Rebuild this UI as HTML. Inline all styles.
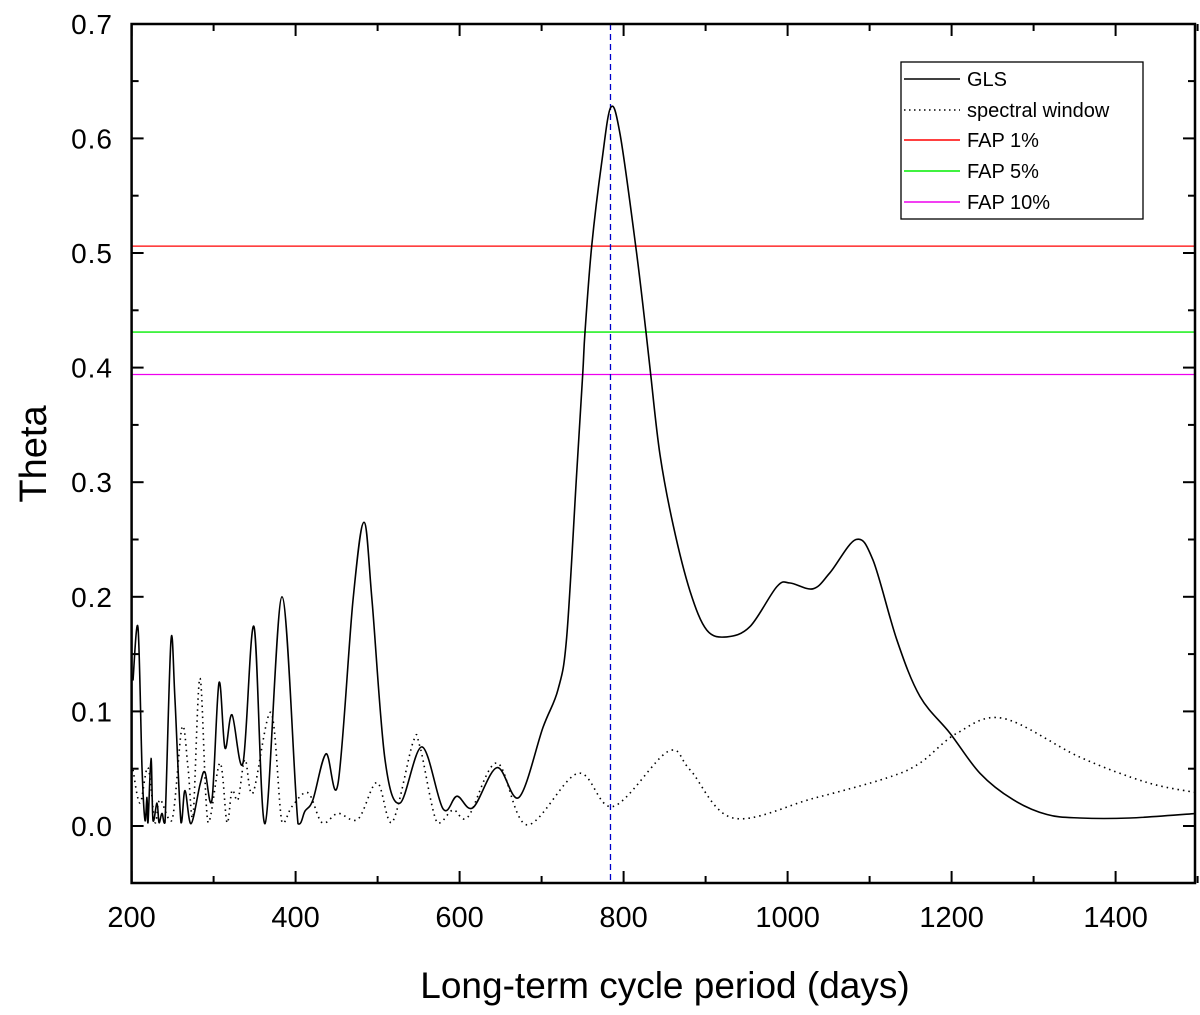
<!DOCTYPE html>
<html><head><meta charset="utf-8"><style>
body{margin:0;background:#fff}
svg text{font-family:"Liberation Sans",Arial,sans-serif}
</style></head><body>
<svg id="chart" width="1200" height="1010" xmlns="http://www.w3.org/2000/svg"></svg>
<script>
const glsPeriod=[201.7,207.8,212.7,216.3,218.8,220.0,223.7,226.1,231.0,233.4,237.1,240.7,248.0,252.9,260.2,265.1,272.4,283.4,289.5,298.0,306.6,313.9,322.4,335.9,349.3,362.7,383.4,402.9,411.5,421.2,437.1,451.7,470.0,483.4,493.2,509.0,527.3,554.1,579.8,596.8,616.3,645.6,672.4,701.7,720.0,730.6,742.8,750.1,752.9,761.1,773.3,784.3,795.6,814.8,827.3,833.0,844.4,860.6,881.0,901.3,925.7,954.1,987.1,1003.0,1031.0,1051.7,1083.4,1104.1,1133.4,1161.5,1198.0,1234.6,1274.9,1316.3,1356.6,1417.6,1499.3];
const glsTheta=[0.127,0.173,0.051,0.005,0.025,0.003,0.059,0.005,0.020,0.003,0.011,0.003,0.162,0.110,0.003,0.031,0.002,0.036,0.047,0.023,0.125,0.068,0.097,0.055,0.174,0.002,0.200,0.002,0.013,0.023,0.063,0.037,0.197,0.265,0.197,0.058,0.020,0.069,0.015,0.026,0.016,0.051,0.025,0.086,0.119,0.165,0.308,0.394,0.431,0.506,0.579,0.627,0.604,0.506,0.431,0.394,0.324,0.262,0.205,0.171,0.165,0.174,0.209,0.212,0.207,0.221,0.250,0.232,0.162,0.113,0.081,0.046,0.023,0.010,0.007,0.007,0.011];
const swPeriod=[201.7,210.2,220.0,228.5,234.6,249.3,261.5,268.8,274.9,283.4,293.2,307.8,316.3,322.4,329.8,338.3,348.0,370.0,383.4,395.6,415.1,432.2,451.7,476.1,499.3,517.6,543.2,551.7,572.4,592.0,610.2,645.6,682.2,744.4,787.1,854.1,881.0,933.4,1031.0,1121.2,1161.5,1206.6,1262.7,1356.6,1438.3,1499.3];
const swTheta=[0.049,0.020,0.051,0.003,0.023,0.005,0.086,0.051,0.008,0.129,0.003,0.055,0.003,0.031,0.023,0.058,0.029,0.099,0.003,0.017,0.029,0.003,0.011,0.006,0.038,0.003,0.073,0.069,0.003,0.014,0.008,0.055,0.001,0.046,0.017,0.065,0.049,0.007,0.024,0.042,0.055,0.081,0.094,0.060,0.038,0.029];
const fapLevels=[0.506,0.431,0.394];
const fapLabels=["FAP 1%","FAP 5%","FAP 10%"];
const bestPeriod=[784];
const xTicks=[200,400,600,800,1000,1200,1400];
const yTicks=[0.0,0.1,0.2,0.3,0.4,0.5,0.6,0.7];

const L=131.6,R=1195,T=24,B=883;
const X=v=>L+(v-200)*0.82;
const Y=v=>826-v*1146;
const svg=document.getElementById('chart');
const NS='http://www.w3.org/2000/svg';
function mk(tag,attrs,parent){const e=document.createElementNS(NS,tag);for(const k in attrs)e.setAttribute(k,attrs[k]);(parent||svg).appendChild(e);return e;}
function smooth(px,py){const floor=Y(0);let d='M'+px[0].toFixed(1)+','+py[0].toFixed(1);
 for(let i=0;i<px.length-1;i++){const x0=px[Math.max(i-1,0)],y0=py[Math.max(i-1,0)],x1=px[i],y1=py[i],x2=px[i+1],y2=py[i+1],x3=px[Math.min(i+2,px.length-1)],y3=py[Math.min(i+2,px.length-1)];
 const c1x=x1+(x2-x0)/6,c1y=Math.min(floor,y1+(y2-y0)/6),c2x=x2-(x3-x1)/6,c2y=Math.min(floor,y2-(y3-y1)/6);
 d+=' C'+c1x.toFixed(1)+','+c1y.toFixed(1)+' '+c2x.toFixed(1)+','+c2y.toFixed(1)+' '+x2.toFixed(1)+','+y2.toFixed(1);}
 return d;}

const cp=mk('clipPath',{id:'clip'});mk('rect',{x:L,y:T,width:R-L,height:B-T},cp);
const fapColors=['#ff0000','#00ee00','#ee00ee'];
fapLevels.forEach((v,i)=>{const l=mk('line',{x1:L,x2:R,y1:Y(v),y2:Y(v),stroke:fapColors[i],'stroke-width':1.3});

});
bestPeriod.forEach(p=>{const l=mk('line',{x1:X(p),x2:X(p),y1:T,y2:B,stroke:'#0000cc','stroke-width':1.3,'stroke-dasharray':'6,4'});

});
const sw=mk('path',{d:smooth(swPeriod.map(X),swTheta.map(Y)),fill:'none',stroke:'#000','stroke-width':1.6,'stroke-dasharray':'1.5,4','clip-path':'url(#clip)'});


const gl=mk('path',{d:smooth(glsPeriod.map(X),glsTheta.map(Y)),fill:'none',stroke:'#000','stroke-width':1.6,'clip-path':'url(#clip)'});



const fr=mk('rect',{x:L,y:T,width:R-L,height:B-T,fill:'none',stroke:'#000','stroke-width':2.5});


for(let v=200;v<=1500;v+=100){const x=X(v),len=(v%200==0)?12:7;
 mk('line',{x1:x,x2:x,y1:B,y2:B-len,stroke:'#000','stroke-width':2});
 mk('line',{x1:x,x2:x,y1:T,y2:T+len,stroke:'#000','stroke-width':2});}
for(let k=-1;k<=14;k++){const v=k*0.05,y=Y(v),len=(k%2==0)?12:7;if(y<T||y>B)continue;
 mk('line',{x1:L,x2:L+len,y1:y,y2:y,stroke:'#000','stroke-width':2});
 mk('line',{x1:R,x2:R-len,y1:y,y2:y,stroke:'#000','stroke-width':2});}
xTicks.forEach(v=>{const t=mk('text',{x:X(v),y:927,'text-anchor':'middle','font-size':29});t.textContent=v;

});
yTicks.forEach(v=>{const t=mk('text',{x:113,y:Y(v)+10,'text-anchor':'end','font-size':28,'letter-spacing':'1'});t.textContent=v.toFixed(1);

});
const xt=mk('text',{x:665,y:998,'text-anchor':'middle','font-size':37});xt.textContent='Long-term cycle period (days)';


const yt=mk('text',{x:0,y:0,'text-anchor':'middle','font-size':38,transform:'translate(46,454) rotate(-90)'});yt.textContent='Theta';



const lg=mk('g',{});


mk('rect',{x:901,y:62,width:242,height:157,fill:'#fff',stroke:'#000','stroke-width':1.3},lg);
const entries=[['GLS','#000',null],['spectral window','#000','1.5,3.5'],[fapLabels[0],fapColors[0],null],[fapLabels[1],fapColors[1],null],[fapLabels[2],fapColors[2],null]];
const ey=[79,110,140,171,202];
entries.forEach((e,i)=>{const g=mk('g',{},lg);


const a={x1:904,x2:960,y1:ey[i],y2:ey[i],stroke:e[1],'stroke-width':1.4};if(e[2])a['stroke-dasharray']=e[2];mk('line',a,g);
const t=mk('text',{x:967,y:ey[i]+7,'font-size':20},g);t.textContent=e[0];});
</script>
</body></html>
